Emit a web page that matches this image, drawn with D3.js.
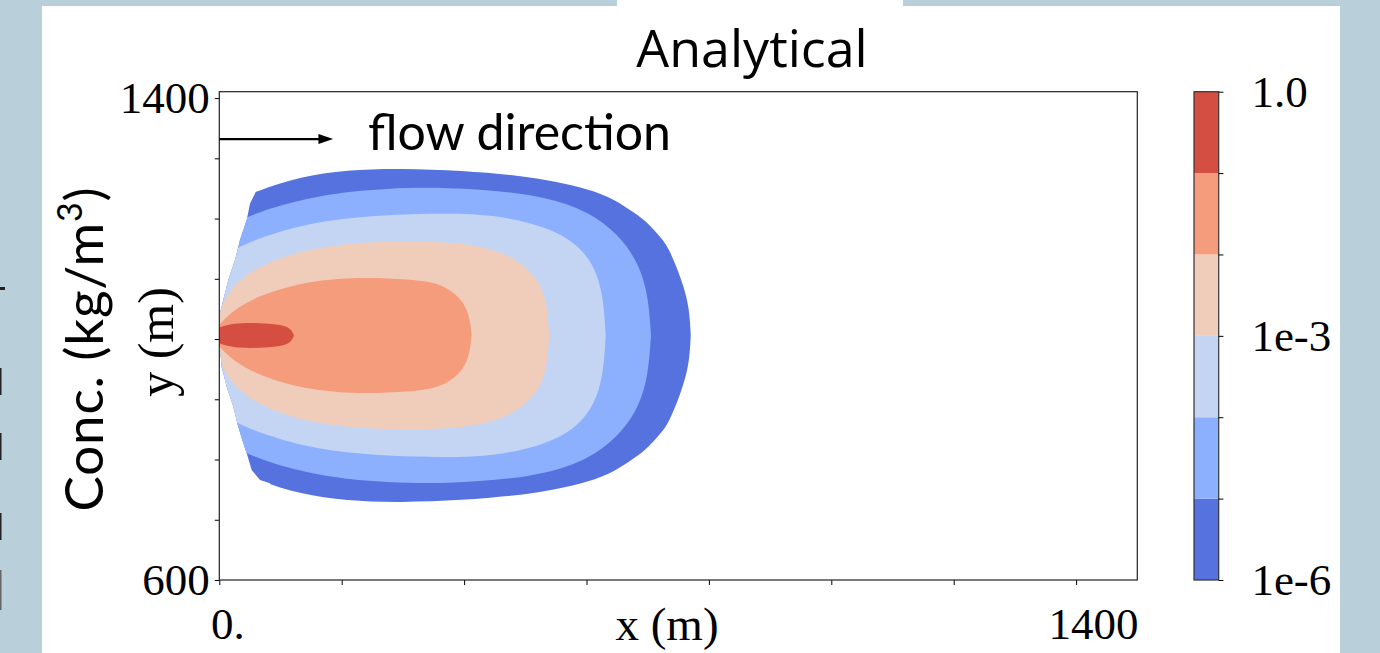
<!DOCTYPE html>
<html>
<head>
<meta charset="utf-8">
<script src="https://cdn.jsdelivr.net/npm/d3@7"></script>
<style>
  body { margin: 0; background: #b9cfda; }
  svg { display: block; }
</style>
</head>
<body>
<svg id="analytical-chart"></svg>
<script>
const width = 1380
const height = 653
const plot = { left: 219.3, right: 1137.3, top: 91.7, bottom: 580 }

/// /data////////////////////////////////
const xDomain = [0, 1500]
const yDomain = [600, 1410.6]
const xTicks = [0, 200, 400, 600, 800, 1000, 1200, 1400]
const xTickLabels = ['0.', '', '', '', '', '', '', '1400']
const yTicks = [600, 700, 800, 900, 1000, 1100, 1200, 1300, 1400]
const yTickLabels = ['600', '', '', '', '', '', '', '', '1400']

const levels = [1e-6, 1e-5, 1e-4, 1e-3, 1e-2, 1e-1, 1]
const levelLabels = ['1e-6', '', '', '1e-3', '', '', '1.0']
const levelColors = ['#5572df', '#8db0fe', '#c4d5f3', '#f0cdbb', '#f59c7d', '#d44e41']

// plume centre line (m) and contour outlines: [x, half width] in metres
const plumeCentre = 1006
const contour1e6 = [[0, 215], [66.5, 241.5], [131.9, 263.6], [208.2, 274.7], [295.3, 277.5], [398.7, 273.5], [480.4, 266.4], [535.0, 258.1], [589.4, 247.0], [638.4, 230.4], [671.1, 208.3], [695.6, 191.7], [720.1, 164.0], [733.7, 147.4], [755.6, 92.1], [768.0, 47.8], [770.3, 0]]
const contour1e5 = [[0, 175], [52.9, 200.0], [99.2, 216.6], [180.9, 236.0], [273.5, 244.3], [371.6, 246.0], [480.4, 238.7], [562.1, 222.1], [616.7, 197.2], [660.1, 158.5], [687.4, 114.2], [701.0, 64.4], [705.4, 0]]
const contour1e4 = [[0, 130], [33.8, 147.4], [71.9, 164.0], [153.6, 188.9], [262.6, 200.0], [371.6, 202.8], [453.3, 200.0], [535.0, 180.6], [584.0, 153.0], [613.9, 114.2], [627.5, 64.4], [631.4, 0]]
const contour1e3 = [[0, 34], [12.1, 70.0], [44.8, 103.2], [99.2, 130.8], [180.9, 150.2], [262.6, 155.7], [344.3, 156.8], [426.0, 150.2], [480.4, 130.8], [518.6, 97.6], [535.0, 58.9], [539.2, 0]]
const contour1e2 = [[0, 18], [22.9, 42.3], [61.1, 64.4], [126.5, 86.6], [213.6, 97.6], [317.0, 93.3], [360.6, 86.6], [393.3, 64.4], [408.5, 36.8], [412.4, 0]]
const contour1e1 = [[0, 13], [22.4, 20.3], [55.1, 21.2], [91.0, 19.1], [115.5, 14.6], [122.1, 0]]

// left edge of the computed field: [x, y] in metres
const fieldEdge = [[100, 1410.6], [79.6, 1252.8], [61.1, 1247.3], [50.2, 1225.2], [44.8, 1197.5], [33.8, 1164.3], [25.7, 1131.1], [14.7, 1097.9], [6.5, 1064.7], [1.1, 1042.7], [0, 998.3], [3.9, 954.0], [12.1, 920.8], [22.9, 887.6], [31.0, 854.4], [39.2, 826.9], [44.8, 810.3], [52.9, 782.6], [66.5, 766.0], [82.8, 760.5], [100, 600]]

const contours = [contour1e6, contour1e5, contour1e4, contour1e3, contour1e2, contour1e1]

/// Scales////////////////////////////////
const xScale = d3.scaleLinear().domain(xDomain).range([plot.left, plot.right])
const yScale = d3.scaleLinear().domain(yDomain).range([plot.bottom, plot.top])
const cScale = d3.scaleLog().domain([levels[0], levels[levels.length - 1]]).range([580, 91.7])

const serif = 'Liberation Serif, Times New Roman, serif'
const sans = 'Lato, Open Sans, sans-serif'

const svg = d3
  .select('#analytical-chart')
  .attr('width', width)
  .attr('height', height)

// background panel
svg.append('rect').attr('width', width).attr('height', height).attr('fill', '#b9cfda')
svg.append('rect').attr('x', 42).attr('y', 6).attr('width', 1298).attr('height', height - 6).attr('fill', '#fff')
svg.append('rect').attr('x', 617).attr('y', 0).attr('width', 286).attr('height', 8).attr('fill', '#fff')

// cut-off bits of the neighbouring panel
const bits = [[0, 287, 5, 3], [0, 368, 1.5, 27], [0, 433, 1.5, 27], [0, 513, 1.5, 27], [0, 570, 1.5, 40]]
svg
  .append('g')
  .selectAll('rect')
  .data(bits)
  .enter()
  .append('rect')
  .attr('x', d => d[0])
  .attr('y', d => d[1])
  .attr('width', d => d[2])
  .attr('height', d => d[3])
  .attr('fill', (d, i) => (i === 4 ? '#666' : '#222'))

/// clip paths////////////////////////////////
const defs = svg.append('defs')
defs
  .append('clipPath')
  .attr('id', 'plot-clip')
  .append('rect')
  .attr('x', plot.left)
  .attr('y', plot.top)
  .attr('width', plot.right - plot.left)
  .attr('height', plot.bottom - plot.top)

const maskLine = d3
  .line()
  .x(d => xScale(d[0]))
  .y(d => yScale(d[1]))
defs
  .append('clipPath')
  .attr('id', 'field-clip')
  .append('path')
  .attr('d', maskLine(fieldEdge.concat([[1500, 600], [1500, 1410.6]])) + 'Z')

/// contour bands////////////////////////////////
const band = d3
  .area()
  .curve(d3.curveBasis)
  .x(d => xScale(d[0]))
  .y0(d => yScale(plumeCentre - d[1]))
  .y1(d => yScale(plumeCentre + d[1]))

svg
  .append('g')
  .attr('clip-path', 'url(#plot-clip)')
  .append('g')
  .attr('clip-path', 'url(#field-clip)')
  .selectAll('path')
  .data(contours)
  .enter()
  .append('path')
  .attr('class', 'band')
  .attr('d', band)
  .attr('fill', (d, i) => levelColors[i])

/// axes////////////////////////////////
const xAxis = svg
  .append('g')
  .attr('class', 'axis x-axis')
  .attr('transform', 'translate(0,' + plot.bottom + ')')
  .call(
    d3
      .axisBottom(xScale)
      .tickValues(xTicks)
      .tickSize(5)
      .tickSizeOuter(0)
      .tickPadding(22)
      .tickFormat((d, i) => xTickLabels[i])
  )
  .call(g => g.select('.domain').remove())
xAxis.selectAll('text').attr('font-size', 45).attr('font-family', serif).attr('fill', '#000')
xAxis.selectAll('.tick').filter(d => d === 1400).select('text').attr('dx', 17)
xAxis.selectAll('.tick').filter(d => d === 0).select('text').attr('dx', 8)

const yAxis = svg
  .append('g')
  .attr('class', 'axis y-axis')
  .attr('transform', 'translate(' + plot.left + ',0)')
  .call(
    d3
      .axisLeft(yScale)
      .tickValues(yTicks)
      .tickSize(4.5)
      .tickSizeOuter(0)
      .tickPadding(5)
      .tickFormat((d, i) => yTickLabels[i])
  )
  .call(g => g.select('.domain').remove())
yAxis.selectAll('text').attr('font-size', 45).attr('font-family', serif).attr('fill', '#000')

// frame
svg
  .append('rect')
  .attr('x', plot.left)
  .attr('y', plot.top)
  .attr('width', plot.right - plot.left)
  .attr('height', plot.bottom - plot.top)
  .attr('fill', 'none')
  .attr('stroke', '#222')
  .attr('stroke-width', 1.2)

/// colour bar////////////////////////////////
const cbar = svg.append('g').attr('class', 'colorbar')
const cbarX = 1194
const cbarW = 24.7
cbar
  .selectAll('rect')
  .data(levelColors)
  .enter()
  .append('rect')
  .attr('x', cbarX)
  .attr('y', (d, i) => cScale(levels[i + 1]))
  .attr('width', cbarW)
  .attr('height', (d, i) => cScale(levels[i]) - cScale(levels[i + 1]))
  .attr('fill', d => d)
cbar
  .append('rect')
  .attr('x', cbarX)
  .attr('y', cScale(1))
  .attr('width', cbarW)
  .attr('height', cScale(1e-6) - cScale(1))
  .attr('fill', 'none')
  .attr('stroke', '#333')
  .attr('stroke-width', 1.2)

const cAxis = svg
  .append('g')
  .attr('transform', 'translate(' + (cbarX + cbarW) + ',0)')
  .call(
    d3
      .axisRight(cScale)
      .tickValues(levels)
      .tickSize(4.7)
      .tickSizeOuter(0)
      .tickPadding(28)
      .tickFormat((d, i) => levelLabels[i])
  )
  .call(g => g.select('.domain').remove())
cAxis.selectAll('text').attr('font-size', 45).attr('font-family', serif).attr('fill', '#000')

/// text labels////////////////////////////////
svg
  .append('text')
  .attr('class', 'headline')
  .text('Analytical')
  .attr('x', 752)
  .attr('y', 66.7)
  .attr('text-anchor', 'middle')
  .attr('font-size', 52)
  .attr('font-family', 'Open Sans, sans-serif')
  .attr('fill', '#000')

svg
  .append('text')
  .text('x (m)')
  .attr('x', 667)
  .attr('y', 640)
  .attr('text-anchor', 'middle')
  .attr('font-size', 47)
  .attr('font-family', serif)

svg
  .append('text')
  .text('y (m)')
  .attr('transform', 'translate(173,342) rotate(-90)')
  .attr('text-anchor', 'middle')
  .attr('font-size', 50)
  .attr('font-family', serif)

const concLabel = svg
  .append('text')
  .attr('transform', 'translate(103,349) rotate(-90)')
  .attr('text-anchor', 'middle')
  .attr('font-size', 53)
  .attr('letter-spacing', 0.8)
  .attr('font-family', sans)
concLabel.append('tspan').text('Conc. (kg/m')
concLabel.append('tspan').text('3').attr('font-size', 34).attr('dy', -21)
concLabel.append('tspan').text(')').attr('dy', 21)

// flow direction arrow
const arrowY = yScale(1332)
svg
  .append('line')
  .attr('x1', xScale(0))
  .attr('x2', xScale(170))
  .attr('y1', arrowY)
  .attr('y2', arrowY)
  .attr('stroke', '#000')
  .attr('stroke-width', 2.2)
svg
  .append('path')
  .attr('d', d3.line()([[xScale(162), arrowY - 5], [xScale(186), arrowY], [xScale(162), arrowY + 5]]) + 'Z')
  .attr('fill', '#000')

svg
  .append('text')
  .text('flow direction')
  .attr('x', 368)
  .attr('y', 150)
  .attr('font-size', 50)
  .attr('font-family', sans)
  .attr('fill', '#000')
</script>
</body>
</html>
